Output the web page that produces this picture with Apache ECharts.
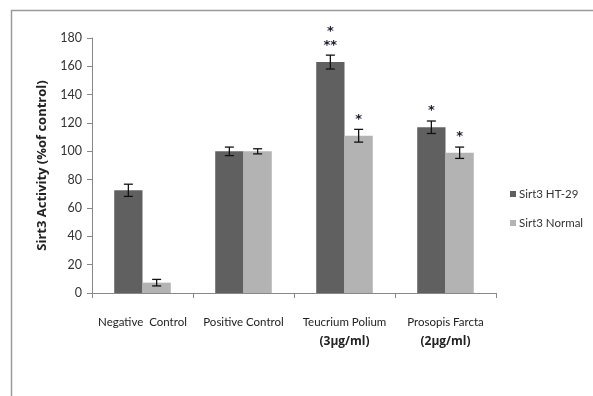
<!DOCTYPE html>
<html><head><meta charset="utf-8">
<script src="https://cdn.jsdelivr.net/npm/echarts@6/dist/echarts.min.js"></script>
<style>html,body{margin:0;padding:0;background:#fff}#c{width:593px;height:396px}</style>
</head><body><div id="c"></div>
<script>
const categories = ['Negative  Control', 'Positive Control', 'Teucrium Polium', 'Prosopis Farcta'];
const subLabels = ['', '', '(3μg/ml)', '(2μg/ml)'];
const seriesNames = ['Sirt3 HT-29', 'Sirt3 Normal'];
const ht29 = [72.5, 100, 163, 117];
const ht29Err = [4.3, 3, 4.9, 4.4];
const normal = [7.3, 100, 111, 99];
const normalErr = [2.3, 1.8, 4.5, 4];
const ht29Stars = ['', '', '*\n**', '*'];
const normalStars = ['', '', '*', '*'];
const yTicks = [0, 20, 40, 60, 80, 100, 120, 140, 160, 180];

const GAP = 0.44;
function errSeries(vals, errs, stars, side) {
  return {
    type: 'custom', name: seriesNames[side], silent: true, z: 10,
    data: vals.map((v, i) => [i, v, errs[i]]),
    renderItem: function (params, api) {
      const i = api.value(0), v = api.value(1), e = api.value(2);
      const st = stars[i];
      const band = api.size([1, 0])[0];
      const bw = band * (1 - GAP) / 2;
      const c = api.coord([i, v]);
      const x = c[0] + (side === 0 ? -bw / 2 : bw / 2);
      const yt = api.coord([i, v + e])[1];
      const yb = api.coord([i, v - e])[1];
      const cap = 4.5;
      const st1 = { stroke: '#111', lineWidth: 1.3 };
      const children = [
        { type: 'line', shape: { x1: x, y1: yt, x2: x, y2: yb }, style: st1 },
        { type: 'line', shape: { x1: x - cap, y1: yt, x2: x + cap, y2: yt }, style: st1 },
        { type: 'line', shape: { x1: x - cap, y1: yb, x2: x + cap, y2: yb }, style: st1 }
      ];
      if (st) {
        const lines = st.split('\n').reverse();
        lines.forEach((ln, k) => {
          children.push({ type: 'text', style: { text: ln, x: x, y: yt - 10 - 13.5 * k, align: 'center', verticalAlign: 'middle', font: 'bold 13px "DejaVu Sans"', fill: '#1b1b2b' } });
        });
      }
      return { type: 'group', children: children };
    }
  };
}

const chart = echarts.init(document.getElementById('c'), null, { renderer: 'canvas' });
chart.setOption({
  animation: false,
  backgroundColor: '#fff',
  graphic: [{ type: 'rect', shape: { x: 11.5, y: 10.5, width: 700, height: 500 }, style: { fill: 'none', stroke: '#9a9a9a', lineWidth: 1.5 }, silent: true }],
  grid: { left: 92, right: 97, top: 38, bottom: 103 },
  legend: {
    data: seriesNames, orient: 'vertical', left: 505, top: 183,
    itemWidth: 6, itemHeight: 6, itemGap: 17, icon: 'rect',
    textStyle: { fontFamily: 'Lato', fontSize: 11.5, color: '#333', padding: [0, 0, 0, -2] }
  },
  xAxis: {
    type: 'category', data: categories,
    axisLine: { lineStyle: { color: '#888', width: 1 } },
    axisTick: { show: true, length: 5, lineStyle: { color: '#888' } },
    axisLabel: {
      interval: 0, margin: 18, color: '#222',
      formatter: function (v, i) {
        const s = subLabels[i];
        return '{a|' + v + '}' + (s ? '\n{b|' + s + '}' : '');
      },
      rich: {
        a: { fontFamily: 'Lato', fontSize: 11.5, color: '#222', lineHeight: 22 },
        b: { fontFamily: 'Open Sans', fontSize: 12, fontWeight: 700, color: '#222', lineHeight: 18 }
      }
    }
  },
  yAxis: {
    type: 'value', min: yTicks[0], max: yTicks[yTicks.length - 1], interval: 20,
    name: 'Sirt3 Activity (%of control)', nameLocation: 'middle', nameGap: 43,
    nameTextStyle: { fontFamily: 'Open Sans', fontWeight: 700, fontSize: 13, color: '#222' },
    axisLine: { show: true, lineStyle: { color: '#888' } },
    axisTick: { show: true, length: 5, lineStyle: { color: '#888' } },
    splitLine: { show: false },
    axisLabel: { fontFamily: 'Lato', fontSize: 12.5, color: '#333', margin: 10 }
  },
  series: [
    { type: 'bar', name: seriesNames[0], data: ht29, itemStyle: { color: '#606060' }, barGap: '0%', barCategoryGap: (GAP * 100) + '%' },
    { type: 'bar', name: seriesNames[1], data: normal, itemStyle: { color: '#b3b3b3' }, barGap: '0%', barCategoryGap: (GAP * 100) + '%' },
    errSeries(ht29, ht29Err, ht29Stars, 0),
    errSeries(normal, normalErr, normalStars, 1)
  ]
});
</script></body></html>
